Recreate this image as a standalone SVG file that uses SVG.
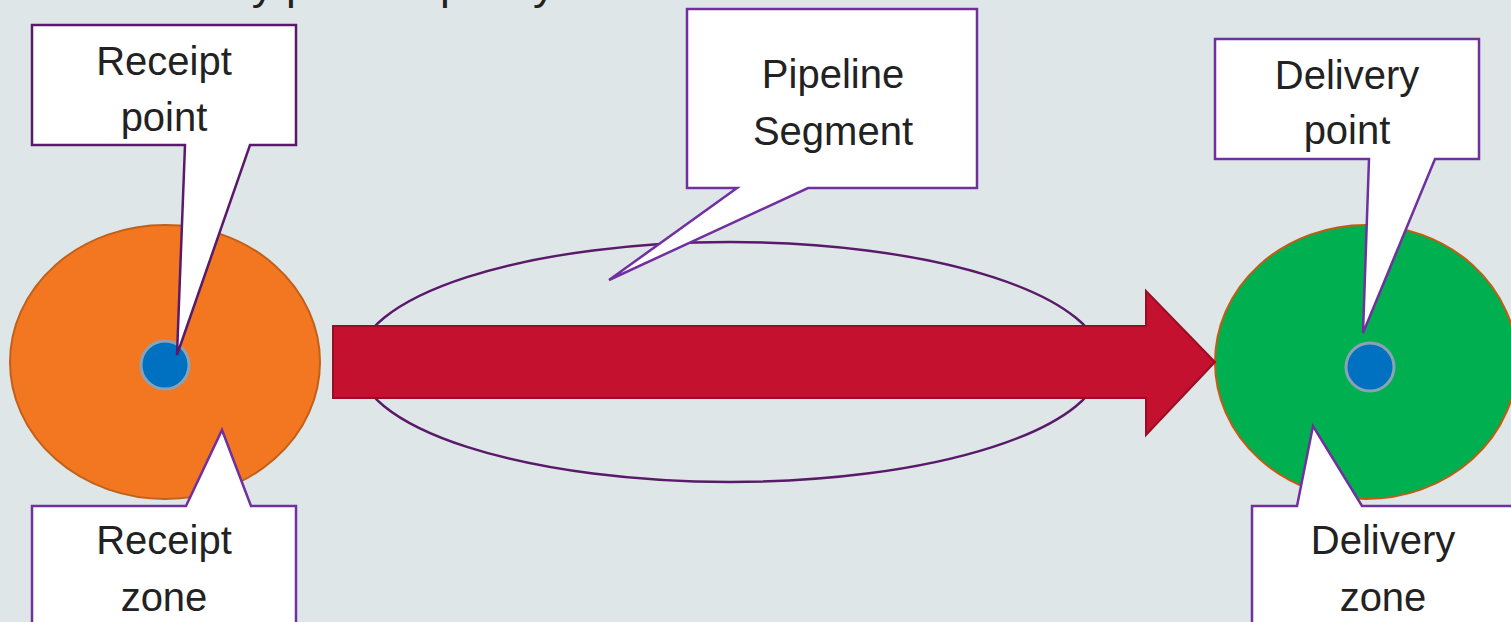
<svg xmlns="http://www.w3.org/2000/svg" width="1511" height="622" viewBox="0 0 1511 622">
<style>
.lbl{font-family:"Liberation Sans","Noto Sans",sans-serif;font-size:40px;fill:#222222;text-anchor:middle}
.call{fill:#ffffff;stroke:#7030a0;stroke-width:2.5;stroke-linejoin:miter}
.pt{fill:#0070c0;stroke:#8aa2b4;stroke-width:3}
</style>
<rect x="0" y="0" width="1511" height="622" fill="#dfe6e8"/>
<text x="115" y="0" font-family="'Liberation Sans','Noto Sans',sans-serif" font-size="40" fill="#222222" textLength="440" lengthAdjust="spacingAndGlyphs">Delivery point capacity</text>

<g id="receipt-zone-shape">
<ellipse cx="165" cy="362" rx="155" ry="137" fill="#f37721" stroke="#c0601a" stroke-width="2"/>
</g>
<g id="delivery-zone-shape">
<ellipse cx="1366" cy="362" rx="151" ry="137" fill="#00b050" stroke="#c55a11" stroke-width="2"/>
</g>
<g id="pipeline-ellipse">
<ellipse cx="730" cy="362" rx="372" ry="120" fill="none" stroke="#5a1a6a" stroke-width="2.5"/>
</g>
<g id="connectors">
<polygon points="333,326 1146,326 1146,291 1215,362 1146,435 1146,398 333,398" fill="#c3112f" stroke="#9a0e25" stroke-width="2"/>
</g>
<g id="receipt-point-dot"><circle class="pt" cx="165" cy="365" r="24"/></g>
<g id="delivery-point-dot"><circle class="pt" cx="1370" cy="367" r="24"/></g>

<g id="receipt-point">
<path class="call" style="stroke:#5a1a6a" d="M32,25 H296 V145 H250 L177,355 L185,145 H32 Z"/>
<text class="lbl" x="164" y="75">Receipt</text>
<text class="lbl" x="164" y="131">point</text>
</g>
<g id="receipt-zone">
<path class="call" d="M32,506 H186 L222,430 L251,506 H296 V640 H32 Z"/>
<text class="lbl" x="164" y="554">Receipt</text>
<text class="lbl" x="164" y="611">zone</text>
</g>
<g id="pipeline-segment">
<path class="call" d="M687,9 H977 V188 H808 L609,280 L737,188 H687 Z"/>
<text class="lbl" x="833" y="88">Pipeline</text>
<text class="lbl" x="833" y="145">Segment</text>
</g>
<g id="delivery-point">
<path class="call" d="M1215,39 H1479 V159 H1435 L1363,333 L1369,159 H1215 Z"/>
<text class="lbl" x="1347" y="89">Delivery</text>
<text class="lbl" x="1347" y="144">point</text>
</g>
<g id="delivery-zone">
<path class="call" d="M1252,506 H1297 L1313,426 L1362,506 H1530 V640 H1252 Z"/>
<text class="lbl" x="1383" y="554">Delivery</text>
<text class="lbl" x="1383" y="611">zone</text>
</g>
</svg>
